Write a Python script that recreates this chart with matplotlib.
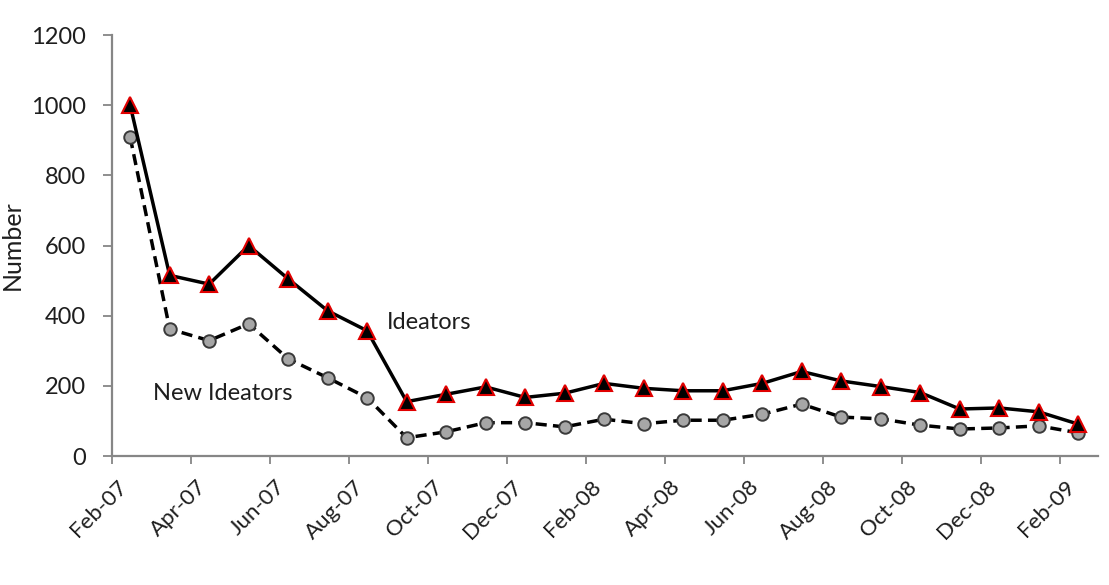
import matplotlib
matplotlib.use("Agg")
from matplotlib import pyplot as plt
from matplotlib import transforms
import numpy as np

# monthly values, Feb-07 .. Feb-09
months = ["Feb-07", "Mar-07", "Apr-07", "May-07", "Jun-07", "Jul-07", "Aug-07",
          "Sep-07", "Oct-07", "Nov-07", "Dec-07", "Jan-08", "Feb-08", "Mar-08",
          "Apr-08", "May-08", "Jun-08", "Jul-08", "Aug-08", "Sep-08", "Oct-08",
          "Nov-08", "Dec-08", "Jan-09", "Feb-09"]
ideators = [1000, 515, 490, 600, 505, 414, 357, 155, 176, 197, 167, 179, 207,
            193, 186, 186, 207, 241, 214, 198, 181, 134, 137, 126, 91]
new_ideators = [909, 362, 329, 377, 277, 223, 166, 52, 69, 95, 95, 83, 105,
                92, 102, 102, 119, 148, 111, 106, 88, 77, 80, 86, 66]
tick_labels = months[::2]
yticks = [0, 200, 400, 600, 800, 1000, 1200]

plt.rcParams['font.family'] = ['Lato', 'DejaVu Sans']
axis_gray = '#868686'
text_col = '#1e1e1e'

fig = plt.figure(figsize=(11.09, 5.85), dpi=100)
ax = fig.add_axes([0.101, 0.2205, 0.889, 0.7195])

x = np.arange(len(months))
ax.plot(x, new_ideators, color='black', lw=2.5, ls=(0, (3.2, 1.8)),
        marker='o', markersize=9, markerfacecolor='#a6a6a6',
        markeredgecolor='#3a3a3a', markeredgewidth=1.4, zorder=3)
ax.plot(x, ideators, color='black', lw=2.5, ls='-',
        marker='^', markersize=11.5, markerfacecolor='black',
        markeredgecolor='#e00000', markeredgewidth=1.5, zorder=4)

ax.text(6.5, 380, "Ideators", fontsize=17, color=text_col, va='center', ha='left')
ax.text(0.58, 177, "New Ideators", fontsize=17, color=text_col, va='center', ha='left')

ax.set_xlim(-0.46, 24.5)
ax.set_ylim(0, 1200)
ax.set_yticks(yticks)
ax.set_yticklabels([str(v) for v in yticks])
ax.set_xticks(np.arange(len(tick_labels)) * 2 - 0.46)
ax.set_xticklabels(tick_labels, rotation=45, ha='right', va='center',
                   rotation_mode='anchor')
ax.set_ylabel("Number", fontsize=18, color=text_col)
ax.yaxis.set_label_coords(-0.09, 0.5)

for side in ['top', 'right']:
    ax.spines[side].set_visible(False)
for side in ['left', 'bottom']:
    ax.spines[side].set_color(axis_gray)
    ax.spines[side].set_linewidth(1.6)

ax.tick_params(axis='y', direction='out', length=6.5, width=1.3, color=axis_gray,
               labelsize=17, labelcolor=text_col, pad=12)
ax.tick_params(axis='x', direction='out', length=6, width=1.3, color=axis_gray,
               labelsize=16, labelcolor=text_col, pad=14)

offset = transforms.ScaledTranslation(12 / 100, 0, fig.dpi_scale_trans)
for lab in ax.get_xticklabels():
    lab.set_transform(lab.get_transform() + offset)

fig.savefig("out.png", dpi=100, facecolor='white')
